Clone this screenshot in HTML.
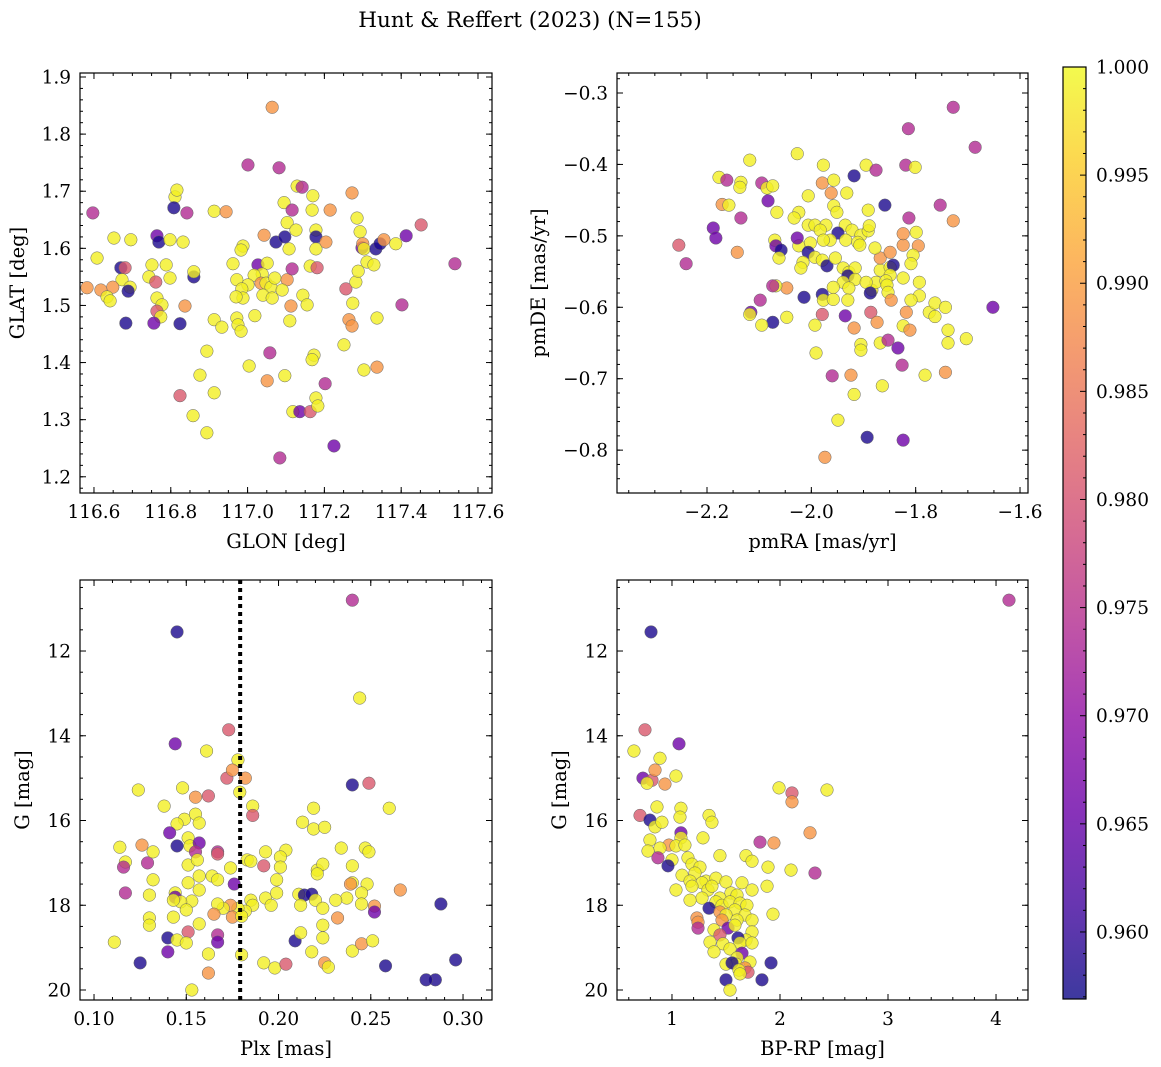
<!DOCTYPE html>
<html><head><meta charset="utf-8"><style>
html,body{margin:0;padding:0;background:#fff;}
svg{display:block;font-family:"DejaVu Serif","Liberation Serif",serif;}
</style></head><body>
<svg id="fig" width="1161" height="1067" viewBox="0 0 1161 1067" xmlns="http://www.w3.org/2000/svg">
<defs><linearGradient id="plasmaGrad" x1="0" y1="1" x2="0" y2="0"></linearGradient></defs>
<text x="530" y="27" font-size="21.5" text-anchor="middle">Hunt &amp; Reffert (2023) (N=155)</text>
</svg>
<script>
// ---------- data ----------
const p1Glon=[117.064,117.001,117.082,116.597,116.811,116.816,116.808,116.842,116.764,116.769,116.798,116.832,116.696,116.652,116.608,116.670,116.681,116.751,116.788,116.743,116.798,116.860,116.860,116.673,116.761,116.649,116.694,116.582,116.618,116.689,116.634,116.642,116.764,116.777,116.837,116.764,116.774,116.683,116.756,116.824,116.913,116.933,116.972,116.975,116.983,117.019,116.894,116.876,116.913,116.824,116.858,116.894,116.913,116.944,116.988,116.983,117.043,117.074,117.027,117.051,116.962,117.038,117.017,116.972,117.035,117.001,116.985,117.048,117.061,117.040,117.064,117.071,117.103,117.090,116.988,116.970,117.113,117.110,117.144,117.155,117.163,117.116,117.108,117.097,117.103,117.126,117.095,117.116,117.129,117.142,117.170,117.168,117.178,117.178,117.178,117.181,117.204,117.215,117.004,117.058,117.051,117.097,117.118,117.136,117.163,117.178,117.183,117.173,117.168,117.202,117.251,117.256,117.264,117.272,117.274,117.282,117.288,117.293,117.298,117.300,117.303,117.311,117.272,117.285,117.329,117.334,117.345,117.337,117.355,117.337,117.386,117.413,117.402,117.452,117.540,117.225,117.084,117.303];
const p1Glat=[1.847,1.746,1.741,1.662,1.690,1.702,1.671,1.662,1.622,1.611,1.615,1.611,1.615,1.618,1.583,1.566,1.566,1.571,1.571,1.550,1.548,1.550,1.559,1.545,1.541,1.532,1.532,1.531,1.527,1.525,1.515,1.508,1.513,1.501,1.499,1.490,1.480,1.469,1.469,1.468,1.475,1.462,1.478,1.466,1.455,1.482,1.420,1.378,1.347,1.342,1.307,1.277,1.665,1.664,1.604,1.597,1.623,1.611,1.571,1.574,1.573,1.555,1.553,1.545,1.539,1.536,1.529,1.539,1.532,1.518,1.513,1.548,1.545,1.527,1.513,1.515,1.499,1.473,1.518,1.501,1.569,1.564,1.599,1.620,1.645,1.632,1.680,1.667,1.709,1.707,1.692,1.667,1.632,1.620,1.599,1.566,1.611,1.667,1.394,1.417,1.368,1.377,1.314,1.314,1.314,1.338,1.324,1.413,1.405,1.363,1.431,1.529,1.475,1.464,1.504,1.541,1.560,1.629,1.601,1.608,1.599,1.576,1.697,1.653,1.571,1.599,1.608,1.478,1.615,1.392,1.608,1.622,1.501,1.641,1.573,1.254,1.233,1.387];
const p1Prob=[.989,.974,.974,.974,.999,.999,.958,.974,.966,.958,
.999,.999,.999,.999,.999,.958,.981,.999,.999,.999,
.999,.958,.999,.999,.981,.989,.999,.989,.989,.958,
.999,.999,.999,.999,.989,.981,.999,.958,.966,.958,
.999,.999,.999,.999,.999,.999,.999,.999,.999,.981,
.999,.999,.999,.989,.999,.999,.989,.958,.966,.999,
.999,.999,.999,.999,.989,.999,.999,.999,.999,.999,
.999,.999,.989,.999,.999,.999,.989,.999,.999,.999,
.999,.974,.999,.958,.999,.999,.999,.974,.999,.974,
.999,.999,.999,.958,.999,.981,.989,.989,.999,.974,
.989,.999,.999,.966,.981,.999,.999,.999,.999,.974,
.999,.981,.989,.989,.999,.999,.999,.999,.966,.989,
.999,.999,.989,.999,.999,.958,.958,.999,.989,.989,
.999,.966,.974,.981,.974,.966,.974,.999];

const p2PmRA=[-1.728,-1.686,-1.814,-2.027,-2.118,-1.977,-1.895,-1.918,-1.876,-1.819,-1.801,-2.177,-2.162,-2.135,-2.095,-2.085,-2.074,-2.137,-2.171,-2.158,-2.083,-2.006,-1.979,-1.957,-1.962,-1.932,-1.957,-1.951,-1.859,-1.891,-2.135,-2.066,-2.024,-1.813,-2.033,-2.006,-1.993,-1.972,-2.188,-1.983,-1.935,-1.922,-1.905,-1.891,-1.889,-1.949,-1.934,-1.911,-1.964,-1.977,-2.002,-2.024,-2.183,-2.070,-2.068,-2.027,-2.058,-2.062,-2.006,-1.993,-2.016,-2.020,-1.979,-1.970,-1.954,-1.939,-1.928,-1.916,-1.930,-1.916,-1.939,-1.958,-1.928,-1.884,-1.876,-1.895,-1.868,-1.849,-1.843,-1.868,-1.878,-1.907,-1.849,-1.857,-1.855,-1.853,-1.847,-1.887,-1.979,-1.977,-1.930,-2.014,-1.958,-2.047,-2.068,-2.074,-2.240,-2.254,-2.142,-2.098,-2.116,-2.118,-2.074,-2.095,-1.979,-1.935,-1.918,-1.886,-1.874,-1.905,-1.905,-1.991,-2.047,-1.993,-1.868,-1.853,-1.834,-1.824,-1.811,-1.818,-1.824,-1.824,-1.795,-1.799,-1.805,-1.809,-1.824,-1.793,-1.793,-1.809,-1.849,-1.774,-1.763,-1.743,-1.763,-1.738,-1.738,-1.703,-1.652,-1.753,-1.728,-1.782,-1.743,-1.826,-1.864,-1.960,-1.924,-1.918,-1.949,-1.893,-1.824,-1.974];
const p2PmDE=[-0.320,-0.376,-0.350,-0.385,-0.394,-0.401,-0.401,-0.416,-0.408,-0.401,-0.404,-0.418,-0.422,-0.425,-0.426,-0.433,-0.430,-0.432,-0.456,-0.457,-0.451,-0.444,-0.426,-0.422,-0.440,-0.440,-0.458,-0.467,-0.457,-0.464,-0.475,-0.467,-0.467,-0.475,-0.475,-0.485,-0.485,-0.485,-0.489,-0.492,-0.485,-0.492,-0.499,-0.493,-0.486,-0.496,-0.506,-0.509,-0.506,-0.506,-0.510,-0.514,-0.503,-0.506,-0.514,-0.503,-0.520,-0.531,-0.523,-0.530,-0.537,-0.545,-0.534,-0.542,-0.531,-0.545,-0.551,-0.545,-0.556,-0.561,-0.565,-0.572,-0.573,-0.576,-0.565,-0.565,-0.548,-0.544,-0.541,-0.531,-0.517,-0.513,-0.555,-0.563,-0.569,-0.579,-0.590,-0.580,-0.582,-0.590,-0.590,-0.586,-0.589,-0.573,-0.570,-0.570,-0.539,-0.513,-0.523,-0.590,-0.607,-0.610,-0.621,-0.625,-0.610,-0.612,-0.629,-0.607,-0.621,-0.652,-0.660,-0.664,-0.614,-0.625,-0.650,-0.646,-0.657,-0.626,-0.632,-0.607,-0.513,-0.497,-0.514,-0.495,-0.527,-0.539,-0.559,-0.565,-0.584,-0.590,-0.523,-0.607,-0.594,-0.600,-0.613,-0.632,-0.650,-0.644,-0.600,-0.457,-0.479,-0.695,-0.691,-0.681,-0.710,-0.696,-0.695,-0.722,-0.758,-0.782,-0.786,-0.810];
const p2Prob=[.974,.974,.974,.999,.999,.999,.999,.958,.974,.974,
.999,.999,.974,.999,.974,.999,.999,.999,.989,.999,
.966,.999,.989,.999,.989,.999,.999,.999,.958,.999,
.974,.999,.999,.974,.999,.999,.999,.999,.966,.999,
.999,.999,.999,.999,.999,.958,.999,.999,.999,.999,
.999,.999,.966,.999,.966,.966,.958,.999,.958,.999,
.999,.999,.999,.958,.999,.999,.999,.999,.958,.999,
.999,.999,.999,.999,.999,.999,.999,.999,.958,.989,
.999,.999,.999,.999,.999,.999,.989,.958,.958,.999,
.999,.958,.999,.989,.999,.974,.974,.981,.989,.974,
.966,.999,.958,.999,.981,.966,.989,.981,.989,.999,
.999,.999,.999,.999,.999,.974,.966,.999,.989,.989,
.989,.989,.989,.999,.999,.999,.999,.999,.999,.999,
.989,.999,.999,.999,.999,.999,.999,.999,.966,.974,
.989,.999,.989,.974,.999,.974,.989,.999,.999,.958,
.966,.989];

const p3Plx=[0.145,0.240,0.244,0.173,0.144,0.161,0.178,0.172,0.182,0.175,0.179,0.240,0.249,0.124,0.148,0.155,0.162,0.138,0.186,0.149,0.145,0.155,0.186,0.219,0.260,0.141,0.151,0.157,0.145,0.114,0.126,0.152,0.157,0.155,0.167,0.167,0.213,0.219,0.225,0.204,0.201,0.193,0.192,0.183,0.185,0.201,0.117,0.129,0.116,0.132,0.151,0.156,0.157,0.164,0.167,0.174,0.221,0.224,0.234,0.247,0.249,0.240,0.221,0.248,0.240,0.237,0.239,0.266,0.245,0.199,0.151,0.157,0.144,0.117,0.130,0.144,0.132,0.176,0.185,0.193,0.199,0.211,0.214,0.218,0.220,0.231,0.252,0.252,0.245,0.212,0.224,0.196,0.186,0.182,0.178,0.174,0.170,0.167,0.165,0.175,0.180,0.153,0.147,0.143,0.143,0.150,0.130,0.130,0.151,0.157,0.167,0.167,0.140,0.145,0.150,0.111,0.140,0.162,0.180,0.192,0.198,0.204,0.125,0.162,0.153,0.209,0.212,0.224,0.224,0.218,0.225,0.227,0.232,0.240,0.245,0.251,0.258,0.288,0.285,0.280,0.296];
const p3G=[11.55,10.80,13.11,13.86,14.19,14.36,14.57,15.00,15.00,14.81,15.33,15.16,15.12,15.28,15.23,15.45,15.42,15.66,15.66,15.97,16.08,15.85,15.88,15.71,15.71,16.29,16.41,16.06,16.60,16.63,16.58,16.60,16.53,16.74,16.74,16.79,16.04,16.20,16.16,16.70,16.86,16.74,17.07,16.93,16.96,17.10,16.98,17.00,17.10,16.74,17.05,16.93,17.31,17.31,17.40,17.12,17.17,17.03,16.65,16.65,16.74,17.07,17.26,17.50,17.47,17.83,17.50,17.64,17.71,17.40,17.47,17.64,17.71,17.71,17.76,17.81,17.40,17.50,17.88,17.83,17.71,17.74,17.76,17.74,17.88,17.88,18.02,18.16,17.97,18.00,18.07,18.00,18.00,18.14,18.07,18.00,18.07,17.97,18.21,18.28,18.26,17.90,17.92,17.88,18.28,18.11,18.30,18.47,18.63,18.44,18.70,18.87,18.77,18.82,18.89,18.87,19.10,19.15,19.17,19.36,19.48,19.39,19.36,19.60,20.00,18.84,18.65,18.47,18.77,19.10,19.36,19.46,18.30,19.08,18.91,18.84,19.43,17.97,19.76,19.76,19.29];
const p3Prob=[.958,.974,.999,.981,.966,.999,.999,.981,.989,.989,
.999,.958,.981,.999,.999,.989,.981,.999,.999,.999,
.999,.999,.981,.999,.999,.966,.999,.999,.958,.999,
.989,.999,.966,.974,.974,.981,.999,.999,.999,.999,
.999,.999,.981,.999,.999,.999,.999,.974,.974,.999,
.999,.999,.999,.999,.999,.999,.999,.999,.999,.999,
.999,.999,.999,.999,.999,.999,.989,.989,.999,.999,
.999,.999,.999,.974,.999,.966,.999,.966,.999,.999,
.999,.999,.958,.958,.999,.999,.989,.966,.999,.999,
.999,.999,.999,.999,.999,.989,.999,.999,.989,.989,
.999,.999,.999,.999,.999,.999,.999,.999,.981,.999,
.974,.966,.958,.999,.999,.999,.966,.999,.999,.999,
.999,.981,.958,.989,.999,.958,.999,.999,.999,.999,
.989,.999,.989,.999,.989,.999,.958,.958,.958,.958,.958];

const p4Color=[0.806,4.12,0.75,1.065,0.648,0.889,0.731,0.815,0.843,0.769,0.935,1.037,1.991,2.111,2.111,2.435,0.704,0.861,0.796,0.843,0.907,1.083,1.074,1.343,1.370,1.083,1.083,0.796,0.972,1.037,0.889,0.778,1.120,1.287,1.815,1.944,2.278,0.870,1.000,1.148,1.185,0.963,1.259,1.444,1.685,1.741,1.889,2.102,2.324,1.093,1.213,1.315,1.407,1.167,1.278,1.333,1.185,1.370,1.500,1.648,1.741,1.546,1.602,1.444,1.278,1.407,1.463,1.537,1.630,1.343,1.583,1.694,1.444,1.500,1.676,1.935,1.231,1.241,1.463,1.602,1.741,1.241,1.389,1.519,1.583,1.741,1.685,1.611,1.444,1.352,1.472,1.630,1.741,1.389,1.537,1.648,1.602,1.722,1.593,1.500,1.676,1.704,1.917,1.556,1.620,1.500,1.833,1.537,1.630,1.880,1.167,1.037];
const p4G=[11.55,10.80,13.86,14.19,14.36,14.53,15.00,15.05,14.81,15.12,15.14,14.95,15.23,15.35,15.56,15.28,15.88,15.68,15.99,16.15,16.04,15.71,15.92,15.88,16.04,16.29,16.41,16.46,16.58,16.60,16.65,16.72,16.58,16.41,16.51,16.53,16.29,16.88,16.93,16.88,17.03,17.07,17.10,16.83,16.83,16.96,17.10,17.17,17.24,17.29,17.24,17.43,17.36,17.43,17.47,17.64,17.55,17.55,17.45,17.47,17.64,17.71,17.76,17.83,17.83,17.92,18.00,17.92,17.95,18.07,18.11,18.00,18.16,18.23,18.23,18.21,18.30,18.40,18.35,18.35,18.35,18.54,18.58,18.54,18.47,18.63,18.82,18.77,18.70,18.87,18.91,18.89,18.89,19.10,19.03,19.13,19.24,19.34,19.39,19.39,19.48,19.58,19.36,19.36,19.53,19.76,19.76,20.00,19.62,17.55,17.88,17.64];
const p4Prob=[.958,.974,.981,.966,.999,.999,.966,.981,.989,.999,
.989,.999,.999,.981,.989,.999,.981,.999,.958,.999,
.999,.999,.999,.999,.999,.966,.999,.999,.989,.999,
.999,.999,.999,.999,.974,.989,.989,.974,.999,.999,
.999,.958,.999,.999,.999,.999,.999,.999,.974,.999,
.999,.999,.999,.999,.999,.999,.999,.999,.999,.999,
.999,.999,.999,.999,.999,.999,.999,.999,.999,.958,
.999,.999,.989,.999,.999,.999,.989,.989,.989,.999,
.999,.974,.999,.966,.999,.999,.999,.958,.981,.999,
.999,.999,.999,.999,.999,.966,.999,.999,.999,.999,
.989,.981,.958,.958,.999,.958,.958,.999,.999,.999,
.999,.999];

const plxCut=[0.1792];
const cbTicks=[0.960,0.965,0.970,0.975,0.980,0.985,0.990,0.995,1.000];
const cbMin=0.9569, cbMax=1.0;

// ---------- helpers ----------
const NS='http://www.w3.org/2000/svg';
const svg=document.getElementById('fig');
function mk(tag,attrs,parent){const e=document.createElementNS(NS,tag);for(const k in attrs)e.setAttribute(k,attrs[k]);(parent||svg).appendChild(e);return e;}
const plasma=[[13,8,135],[65,4,157],[106,0,168],[143,13,164],[177,42,144],[204,71,120],[225,100,98],[242,132,75],[252,166,54],[252,206,37],[240,249,33]];
function plasmaColor(t){t=Math.max(0,Math.min(1,t));const f=t*10,i=Math.min(9,Math.floor(f)),r=f-i;const a=plasma[i],b=plasma[i+1];
return 'rgb('+a.map((v,k)=>Math.round(v+(b[k]-v)*r)).join(',')+')';}
function fmt(v,d){const s=Math.abs(v).toFixed(d);return (v<-1e-9?'\u2212':'')+s;}
const TICK_FS=18.5, AX_FS=19.5;

function panel(cfg){
  const g=mk('g',{});
  
  
  const {x0,x1,y0,y1}=cfg.box;
  const sx=v=>x0+(v-cfg.xd[0])/(cfg.xd[1]-cfg.xd[0])*(x1-x0);
  const sy=v=>y1-(v-cfg.yd[0])/(cfg.yd[1]-cfg.yd[0])*(y1-y0);
  const clip='clip-'+cfg.name;
  const cp=mk('clipPath',{id:clip},g);mk('rect',{x:x0,y:y0,width:x1-x0,height:y1-y0},cp);
  const pts=mk('g',{'clip-path':'url(#'+clip+')'},g);
  
  
  const n=Math.min(cfg.xs.length,cfg.ys.length,cfg.ps.length);
  for(let i=0;i<n;i++){
    const c=mk('circle',{cx:sx(cfg.xs[i]),cy:sy(cfg.ys[i]),r:6.3,fill:plasmaColor((cfg.ps[i]-cbMin)/(cbMax-cbMin)),'fill-opacity':0.8,stroke:'#666','stroke-width':0.5},pts);
    
    
  }
  if(cfg.vline){for(const v of cfg.vline){const l=mk('line',{x1:sx(v),x2:sx(v),y1:y0,y2:y1,stroke:'#000','stroke-width':4,'stroke-dasharray':'4,4'},g);
    
    }}
  const tk=mk('g',{stroke:'#000','stroke-width':1},g);
  const eps=1e-9;
  function ticksX(step,len){const s=Math.ceil(cfg.xd[0]/step-eps);for(let k=s;k*step<=cfg.xd[1]+eps;k++){const X=sx(k*step);mk('line',{x1:X,x2:X,y1:y1,y2:y1-len},tk);mk('line',{x1:X,x2:X,y1:y0,y2:y0+len},tk);}}
  function ticksY(step,len){const lo=Math.min(cfg.yd[0],cfg.yd[1]),hi=Math.max(cfg.yd[0],cfg.yd[1]);const s=Math.ceil(lo/step-eps);for(let k=s;k*step<=hi+eps;k++){const Y=sy(k*step);mk('line',{x1:x0,x2:x0+len,y1:Y,y2:Y},tk);mk('line',{x1:x1,x2:x1-len,y1:Y,y2:Y},tk);}}
  ticksX(cfg.xMinor,3);ticksY(cfg.yMinor,3);ticksX(cfg.xMajor,6);ticksY(cfg.yMajor,6);
  const lab=mk('g',{'font-size':TICK_FS,fill:'#000'},g);
  const lo=Math.min(cfg.yd[0],cfg.yd[1]),hi=Math.max(cfg.yd[0],cfg.yd[1]);
  for(let k=Math.ceil(cfg.xd[0]/cfg.xMajor-eps);k*cfg.xMajor<=cfg.xd[1]+eps;k++){const v=k*cfg.xMajor;
    const t=mk('text',{x:sx(v),y:y1+25,'text-anchor':'middle'},lab);t.textContent=fmt(v,cfg.xDec);
    }
  for(let k=Math.ceil(lo/cfg.yMajor-eps);k*cfg.yMajor<=hi+eps;k++){const v=k*cfg.yMajor;
    const t=mk('text',{x:x0-9,y:sy(v)+6.5,'text-anchor':'end'},lab);t.textContent=fmt(v,cfg.yDec);
    }
  mk('rect',{x:x0,y:y0,width:x1-x0,height:y1-y0,fill:'none',stroke:'#000','stroke-width':1.2},g);
  const xl=mk('text',{x:(x0+x1)/2,y:y1+55,'text-anchor':'middle','font-size':AX_FS},g);xl.textContent=cfg.xLabel;
  
  const yx=cfg.yLabelX,yy=(y0+y1)/2;
  const yl=mk('text',{x:yx,y:yy,'text-anchor':'middle','font-size':AX_FS,transform:'rotate(-90 '+yx+' '+yy+')'},g);yl.textContent=cfg.yLabel;
  
}

panel({name:'glon-glat-panel',box:{x0:80,x1:492,y0:73,y1:493},xd:[116.5636,117.6365],yd:[1.1716,1.907],
  xs:p1Glon,ys:p1Glat,ps:p1Prob,xMajor:0.2,xMinor:0.05,yMajor:0.1,yMinor:0.02,xDec:1,yDec:1,xLabel:'GLON [deg]',yLabel:'GLAT [deg]',yLabelX:24});
panel({name:'proper-motion-panel',box:{x0:617,x1:1028,y0:73,y1:493},xd:[-2.3725,-1.5847],yd:[-0.860,-0.272],
  xs:p2PmRA,ys:p2PmDE,ps:p2Prob,xMajor:0.2,xMinor:0.05,yMajor:0.1,yMinor:0.02,xDec:1,yDec:1,xLabel:'pmRA [mas/yr]',yLabel:'pmDE [mas/yr]',yLabelX:545});
panel({name:'plx-g-panel',box:{x0:80,x1:492,y0:580,y1:1000},xd:[0.0924,0.3157],yd:[20.236,10.324],
  xs:p3Plx,ys:p3G,ps:p3Prob,vline:plxCut,xMajor:0.05,xMinor:0.01,yMajor:2,yMinor:0.5,xDec:2,yDec:0,xLabel:'Plx [mas]',yLabel:'G [mag]',yLabelX:29});
panel({name:'cmd-panel',box:{x0:617,x1:1028,y0:580,y1:1000},xd:[0.491,4.296],yd:[20.236,10.324],
  xs:p4Color,ys:p4G,ps:p4Prob,xMajor:1,xMinor:0.2,yMajor:2,yMinor:0.5,xDec:0,yDec:0,xLabel:'BP-RP [mag]',yLabel:'G [mag]',yLabelX:566});

// colorbar
const grad=document.getElementById('plasmaGrad');
for(let i=0;i<=10;i++){mk('stop',{offset:(i/10),'stop-color':plasmaColor(i/10)},grad);}
const cb=mk('g',{});


const cx0=1063,cx1=1086,cy0=67,cy1=999;
const cy=v=>cy1-(v-cbMin)/(cbMax-cbMin)*(cy1-cy0);
mk('rect',{x:cx0,y:cy0,width:cx1-cx0,height:cy1-cy0,fill:'url(#plasmaGrad)','fill-opacity':0.8},cb);
for(let k=Math.ceil(cbMin*1000);k<=1000;k++){const Y=cy(k/1000);const major=(k%5===0);
  mk('line',{x1:cx1,x2:cx1-(major?6:3),y1:Y,y2:Y,stroke:'#000','stroke-width':1},cb);}
for(const v of cbTicks){const t=mk('text',{x:cx1+10,y:cy(v)+6.5,'font-size':TICK_FS},cb);t.textContent=v.toFixed(3);
  }
mk('rect',{x:cx0,y:cy0,width:cx1-cx0,height:cy1-cy0,fill:'none',stroke:'#000','stroke-width':1.2},cb);
</script>
</body></html>
